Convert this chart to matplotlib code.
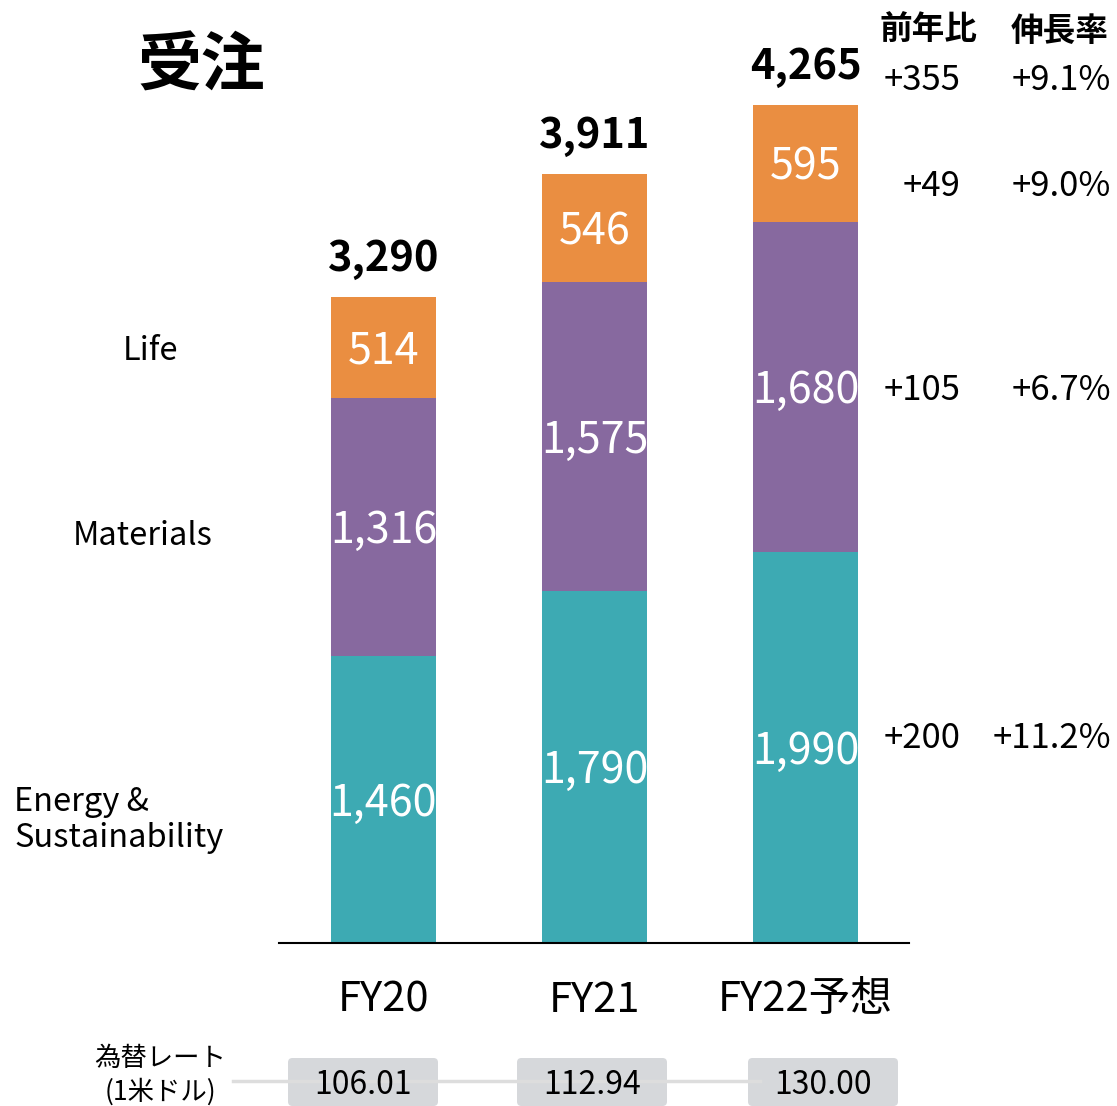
import matplotlib
matplotlib.use("Agg")
import matplotlib.pyplot as plt
from matplotlib.patches import FancyBboxPatch

plt.rcParams['font.family'] = ['Noto Sans CJK JP', 'DejaVu Sans']

categories = ['FY20', 'FY21', 'FY22予想']
energy = [1460, 1790, 1990]
materials = [1316, 1575, 1680]
life = [514, 546, 595]
totals = [3290, 3911, 4265]
segment_names = ['Life', 'Materials', 'Energy &\nSustainability']
yoy_diff = ['+355', '+49', '+105', '+200']
growth = ['+9.1%', '+9.0%', '+6.7%', '+11.2%']
fx_rates = ['106.01', '112.94', '130.00']

C_ENERGY = '#3DAAB3'
C_MAT = '#87699F'
C_LIFE = '#EA8E41'

W, H = 1117, 1106
fig = plt.figure(figsize=(W / 100, H / 100), dpi=100)

def fx(px):
    return px / W

def fy(py):
    return 1 - py / H

ax_left, ax_right, ax_bottom = 279, 909, 943
ymax = 4500
scale = 0.1965
ax_top = ax_bottom - ymax * scale
ax = fig.add_axes([fx(ax_left), fy(ax_bottom), (ax_right - ax_left) / W, (ax_bottom - ax_top) / H])
ax.set_xlim(-0.495, 2.49)
ax.set_ylim(0, ymax)

x = list(range(len(categories)))
bw = 0.5
ax.bar(x, energy, bw, color=C_ENERGY, linewidth=0)
ax.bar(x, materials, bw, bottom=energy, color=C_MAT, linewidth=0)
bottom3 = [e + m for e, m in zip(energy, materials)]
ax.bar(x, life, bw, bottom=bottom3, color=C_LIFE, linewidth=0)

def inlabel(xx, yy, s):
    ax.annotate(s, (xx, yy), xytext=(0, -4), textcoords='offset pixels',
                ha='center', va='center', color='white', fontsize=31)

for i in x:
    inlabel(i, energy[i] / 2, f'{energy[i]:,}')
    inlabel(i, energy[i] + materials[i] / 2, f'{materials[i]:,}')
    inlabel(i, bottom3[i] + life[i] / 2, f'{life[i]:,}')
    ax.annotate(f'{totals[i]:,}', (i, totals[i]), xytext=(0, 38), textcoords='offset pixels',
                ha='center', va='center', fontsize=30, fontweight='bold', color='black')
    ax.annotate(categories[i], (i, 0), xytext=(0, -57), textcoords='offset pixels',
                ha='center', va='center', fontsize=30, color='black', annotation_clip=False)

for s in ['top', 'right', 'left']:
    ax.spines[s].set_visible(False)
ax.spines['bottom'].set_linewidth(1.5)
ax.set_xticks([])
ax.set_yticks([])
ax.patch.set_alpha(0)

# title
fig.text(fx(201), fy(67), '受注', ha='center', va='center', fontsize=46, fontweight='bold')

# segment labels on left
fig.text(fx(151), fy(351), segment_names[0], ha='center', va='center', fontsize=23.5)
fig.text(fx(143), fy(536), segment_names[1], ha='center', va='center', fontsize=23.5)
fig.text(fx(14), fy(820), segment_names[2], ha='left', va='center', fontsize=23.5, linespacing=1.15)

# right columns
fig.text(fx(928), fy(30), '前年比', ha='center', va='center', fontsize=23.5, fontweight='bold')
fig.text(fx(1060), fy(32), '伸長率', ha='center', va='center', fontsize=23.5, fontweight='bold')
row_y = [81, 187, 391, 738]
for d, g, yy in zip(yoy_diff, growth, row_y):
    fig.text(fx(961), fy(yy), d, ha='right', va='center', fontsize=25)
    fig.text(fx(1111), fy(yy), g, ha='right', va='center', fontsize=25)

# exchange rate row
fig.text(fx(160), fy(1075), '為替レート\n(1米ドル)', ha='center', va='center', fontsize=19,
         linespacing=1.3)
fig.add_artist(plt.Line2D([fx(233), fx(760)], [fy(1081), fy(1081)], color='#DDDDDD', linewidth=2.5))
box_cx = [363, 592, 823]
for cx, r in zip(box_cx, fx_rates):
    p = FancyBboxPatch((fx(cx - 75), fy(1106)), 150 / W, 48 / H,
                       boxstyle='round,pad=0,rounding_size=0.004', transform=fig.transFigure,
                       facecolor='#D6D8DB', edgecolor='none')
    fig.add_artist(p)
    fig.text(fx(cx), fy(1085), r, ha='center', va='center', fontsize=23)

fig.savefig('out.png', dpi=100)
